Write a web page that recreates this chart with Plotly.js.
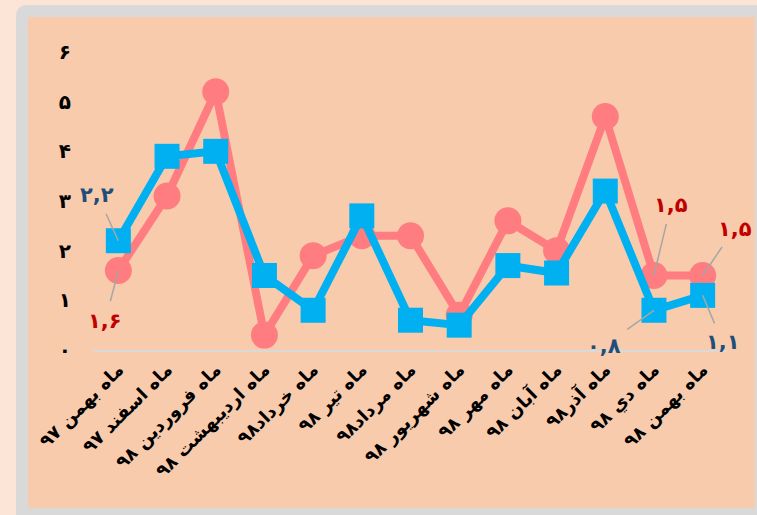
<!DOCTYPE html>
<html>
<head>
<meta charset="utf-8">
<script src="https://cdn.plot.ly/plotly-3.0.1.min.js"></script>
<style>
  html, body { margin:0; padding:0; width:757px; height:515px; overflow:hidden; background:#FCE4D6; }
  #frame { position:absolute; left:16px; top:5px; width:770px; height:530px; background:#D9D9D9; border-radius:10px; }
  #chart { position:absolute; left:28px; top:17px; width:727px; height:491px; }
</style>
</head>
<body>
<div id="frame"></div>
<div id="chart"></div>
<script>
// ---- data ----
const categories = [
  "ماه بهمن ۹۷",
  "ماه اسفند ۹۷",
  "ماه فروردين ۹۸",
  "ماه ارديبهشت ۹۸",
  "ماه خرداد۹۸",
  "ماه تير ۹۸",
  "ماه مرداد۹۸",
  "ماه شهريور ۹۸",
  "ماه مهر ۹۸",
  "ماه آبان ۹۸",
  "ماه آذر۹۸",
  "ماه دي ۹۸",
  "ماه بهمن ۹۸"
];
const pinkValues = [1.6, 3.1, 5.2, 0.3, 1.9, 2.3, 2.3, 0.7, 2.6, 2.0, 4.7, 1.5, 1.5];
const blueValues = [2.2, 3.9, 4.0, 1.5, 0.8, 2.7, 0.6, 0.5, 1.7, 1.55, 3.2, 0.8, 1.1];
const yTickVals = [0, 1, 2, 3, 4, 5, 6];
const yTickText = ["۰", "۱", "۲", "۳", "۴", "۵", "۶"];
const labeledIndices = [0, 11, 12];

// ---- helpers ----
const faDigits = "۰۱۲۳۴۵۶۷۸۹";
function toFa(v) {
  return String(v).replace(/[0-9]/g, d => faDigits[+d]).replace(".", ",");
}

const FONT = "DejaVu Sans";
const PINK = "#FF7C80", BLUE = "#00B0F0";
const RED_LABEL = "#C00000", BLUE_LABEL = "#1F4E79";

const traces = [
  {
    x: categories, y: pinkValues, type: "scatter", mode: "lines+markers",
    line: { color: PINK, width: 8 },
    marker: { symbol: "circle", size: 27, color: PINK },
    cliponaxis: false, hoverinfo: "skip"
  },
  {
    x: categories, y: blueValues, type: "scatter", mode: "lines+markers",
    line: { color: BLUE, width: 8 },
    marker: { symbol: "square", size: 25, color: BLUE },
    cliponaxis: false, hoverinfo: "skip"
  }
];

// label offsets (pixels) for the annotated points
const pinkOffsets = { 0: [-13, 50], 11: [17, -71], 12: [32, -47] };
const blueOffsets = { 0: [-21, -46], 11: [-50, 36], 12: [20, 47] };

const annotations = [];
labeledIndices.forEach(i => {
  annotations.push({
    x: categories[i], y: pinkValues[i], xref: "x", yref: "y",
    text: "<b>" + toFa(pinkValues[i]) + "</b>",
    font: { family: FONT, size: 21, color: RED_LABEL },
    showarrow: true, arrowhead: 0, arrowwidth: 1.5, arrowcolor: "#A6A6A6",
    ax: pinkOffsets[i][0], ay: pinkOffsets[i][1], standoff: 0, startstandoff: 6
  });
  annotations.push({
    x: categories[i], y: blueValues[i], xref: "x", yref: "y",
    text: "<b>" + toFa(blueValues[i]) + "</b>",
    font: { family: FONT, size: 21, color: BLUE_LABEL },
    showarrow: true, arrowhead: 0, arrowwidth: 1.5, arrowcolor: "#A6A6A6",
    ax: blueOffsets[i][0], ay: blueOffsets[i][1], standoff: 0, startstandoff: 6
  });
});

const layout = {
  width: 727, height: 491,
  margin: { l: 66, r: 28, t: 35, b: 158 },
  paper_bgcolor: "#F8CBAD",
  plot_bgcolor: "rgba(0,0,0,0)",
  showlegend: false,
  font: { family: FONT, color: "#000" },
  xaxis: {
    type: "category", range: [-0.5, 12.5],
    showgrid: false, zeroline: false,
    showline: true, linecolor: "#D9D9D9", linewidth: 2,
    ticks: "", tickangle: -45,
    tickfont: { family: FONT, size: 18, color: "#000", weight: "bold" },
    fixedrange: true
  },
  yaxis: {
    range: [0, 6], tickvals: yTickVals, ticktext: yTickText,
    showgrid: false, zeroline: false, showline: false, ticks: "",
    ticklabelstandoff: 22,
    tickfont: { family: FONT, size: 20, color: "#000", weight: "bold" },
    fixedrange: true
  },
  annotations: annotations
};

Plotly.newPlot("chart", traces, layout, { displayModeBar: false, staticPlot: true });
</script>
</body>
</html>
